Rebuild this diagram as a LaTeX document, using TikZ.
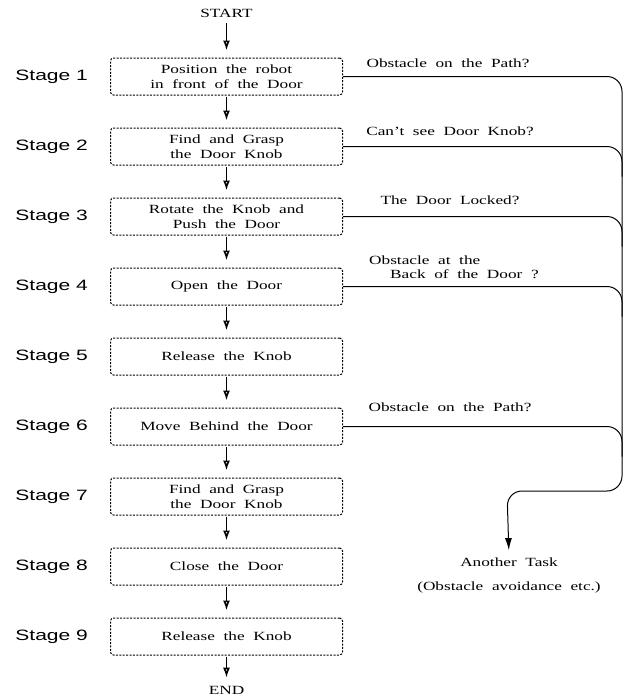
\documentclass[tikz,border=0pt]{standalone}
\usepackage{fontspec}
\setmainfont{Liberation Serif}[FakeStretch=1.38,WordSpace=2]
\newfontfamily\stagefont{Liberation Sans}[FakeStretch=1.4]
\usetikzlibrary{positioning,arrows.meta}
\newcommand\taskfont{\fontsize{12.5}{15}\selectfont}
\tikzset{
  task/.style={draw,dash pattern=on 2pt off 1.4pt,line width=1pt,rounded corners=3pt,
    minimum width=232pt,minimum height=37pt,inner sep=2pt,align=center,font=\taskfont},
  stage/.style={inner sep=0pt,font=\stagefont\fontsize{15}{18}\selectfont},
  note/.style={font=\taskfont,inner sep=1pt},
  flow/.style={line width=1.6pt,-{Latex[open,length=10pt,width=7pt]},shorten <=1pt,shorten >=7pt},
  branch/.style={line width=1pt,rounded corners=15pt},
}
\begin{document}
\begin{tikzpicture}[x=1pt,y=-1pt]
\useasboundingbox (0,0) rectangle (629,697);
\node[task] (t1) at (226.5,76.5) {Position the robot\\in front of the Door};
\node[task,below=32pt of t1] (t2) {Find and Grasp\\the Door Knob};
\node[task,below=32pt of t2] (t3) {Rotate the Knob and\\Push the Door};
\node[task,below=32pt of t3] (t4) {Open the Door};
\node[task,below=32pt of t4] (t5) {Release the Knob};
\node[task,below=32pt of t5] (t6) {Move Behind the Door};
\node[task,below=32pt of t6] (t7) {Find and Grasp\\the Door Knob};
\node[task,below=32pt of t7] (t8) {Close the Door};
\node[task,below=32pt of t8] (t9) {Release the Knob};
\node[stage,left=22pt of t1] (s1) {Stage 1};
\node[stage,left=22pt of t2] (s2) {Stage 2};
\node[stage,left=22pt of t3] (s3) {Stage 3};
\node[stage,left=22pt of t4] (s4) {Stage 4};
\node[stage,left=22pt of t5] (s5) {Stage 5};
\node[stage,left=22pt of t6] (s6) {Stage 6};
\node[stage,left=22pt of t7] (s7) {Stage 7};
\node[stage,left=22pt of t8] (s8) {Stage 8};
\node[stage,left=22pt of t9] (s9) {Stage 9};
\node[note] (start) at (226.5,13) {START};
\node[note] (end) at (226.5,690) {END};
\node[note] (q1) at (448,63) {Obstacle on the Path?};
\node[note] (q2) at (450,131) {Can't see Door Knob?};
\node[note] (q3) at (450,200) {The Door Locked?};
\node[note,anchor=west,align=left,font=\fontsize{12.5}{14}\selectfont] (q4) at (368,267)
  {Obstacle at the\\\hspace{21pt}Back of the Door ?};
\node[note] (q6) at (450,407) {Obstacle on the Path?};
\node[note,align=center] (other) at (509,575) {Another Task\\[9pt](Obstacle avoidance etc.)};
\coordinate (rail) at (622,0);
\coordinate (turn) at (507,491);
\draw[flow,shorten <=5pt] (start) -- (t1);
\draw[flow] (t1) -- (t2);
\draw[flow] (t2) -- (t3);
\draw[flow] (t3) -- (t4);
\draw[flow] (t4) -- (t5);
\draw[flow] (t5) -- (t6);
\draw[flow] (t6) -- (t7);
\draw[flow] (t7) -- (t8);
\draw[flow] (t8) -- (t9);
\draw[flow] (t9) -- (end);
\draw[branch,-{Latex[length=12pt,width=7pt]},shorten >=6pt]
  (t1.east) -- (t1.east -| rail) -- (rail |- turn) -- (turn) -- (other.north);
\draw[branch] (t2.east) -- (t2.east -| rail) -- ++(0,30);
\draw[branch] (t3.east) -- (t3.east -| rail) -- ++(0,30);
\draw[branch] (t4.east) -- (t4.east -| rail) -- ++(0,30);
\draw[branch] (t6.east) -- (t6.east -| rail) -- ++(0,30);
\end{tikzpicture}
\end{document}
